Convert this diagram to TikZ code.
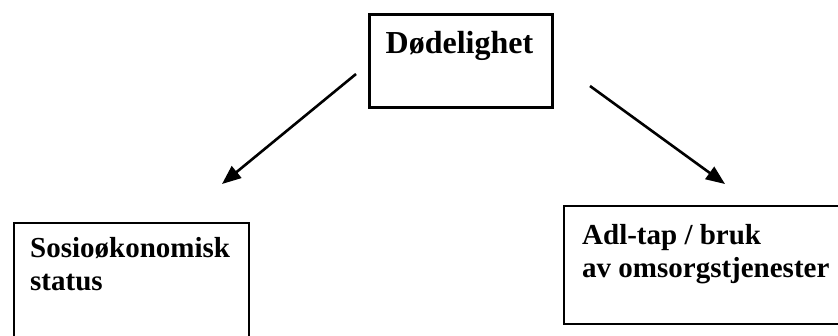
\documentclass[tikz,border=0pt]{standalone}
\usepackage{fontspec}
\setmainfont{Liberation Serif}
\usetikzlibrary{arrows.meta}
\begin{document}
\begin{tikzpicture}[x=1bp,y=-1bp,
  topbox/.style={draw=black,line width=2.6bp,inner sep=0pt,anchor=north west},
  lowbox/.style={draw=black,line width=1.8bp,inner sep=0pt,anchor=north west},
  bigtext/.style={inner sep=0pt,font=\fontsize{32bp}{36bp}\selectfont\bfseries},
  smalltext/.style={inner sep=0pt,anchor=base west,align=left,font=\fontsize{29bp}{33bp}\selectfont\bfseries},
  arr/.style={line width=2.6bp,-{Triangle[length=19bp,width=15bp]}}]
\useasboundingbox (0,0) rectangle (838,335);
\fill[white] (0,0) rectangle (838,335);
% boxes
\node (top) [topbox,minimum width=183bp,minimum height=93bp] at (368,13) {};
\node (left) [lowbox,minimum width=235bp,minimum height=125bp] at (13,222) {};
\node (right) [lowbox,minimum width=290bp,minimum height=118bp] at (563,205) {};
% texts (base anchor = baseline of the last line)
\node (toptext) [bigtext,anchor=base] at (459.5,53) {Dødelighet};
\node (lefttext) [smalltext] at (30,290) {Sosioøkonomisk\\status};
\node (righttext) [smalltext] at (582,277) {Adl-tap / bruk\\av omsorgstjenester};
% arrows
\coordinate (a1s) at (356,74);
\coordinate (a1e) at (222,184);
\coordinate (a2s) at (590,86);
\coordinate (a2e) at (725,184);
\draw[arr] (a1s) -- (a1e);
\draw[arr] (a2s) -- (a2e);
\end{tikzpicture}
\end{document}
